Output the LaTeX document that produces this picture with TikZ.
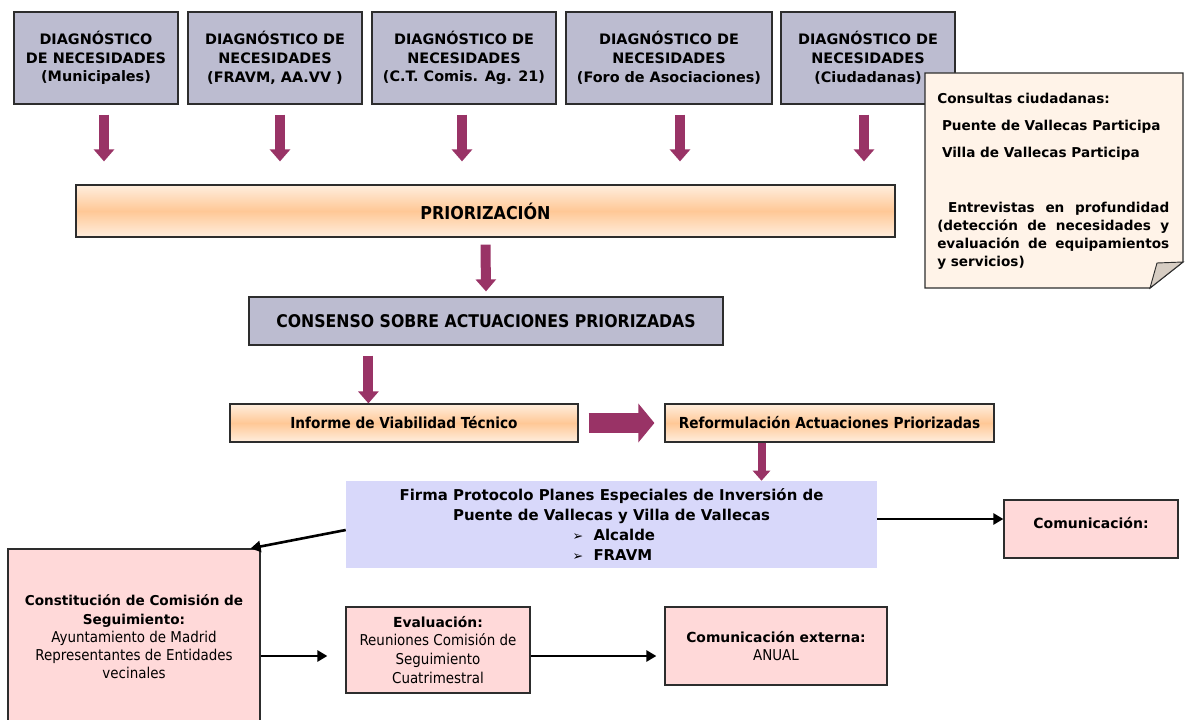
\documentclass[tikz,border=0pt]{standalone}
\usepackage{fontspec}
\setmainfont{DejaVu Sans}
\newfontfamily\cond{DejaVu Sans Condensed}
\usetikzlibrary{arrows.meta,calc}
\newdimen\px \px=0.75pt
\definecolor{diagc}{RGB}{188,188,208}
\definecolor{firmac}{RGB}{216,216,250}
\definecolor{pinkc}{RGB}{255,217,217}
\definecolor{maroonc}{RGB}{153,51,102}
\definecolor{orlight}{RGB}{255,238,222}
\definecolor{ormid}{RGB}{255,200,150}
\definecolor{notec}{RGB}{255,243,232}
\definecolor{foldc}{RGB}{215,205,195}
\definecolor{edgec}{RGB}{45,45,45}
\newcommand\bx[7][]{\node[#1, minimum width={(#5-#3)*0.75pt}, minimum height={(#6-#4)*0.75pt}] (#2) at ({(#3+#5)/2},{(#4+#6)/2}) {#7};}
\tikzset{
  x=0.75pt, y=-0.75pt,
  basebox/.style={draw=edgec, line width=0.9pt, inner sep=0pt, align=center},
  diagbox/.style={basebox, fill=diagc, font=\fontsize{10.8}{14.1}\selectfont\bfseries},
  orbox/.style={basebox, top color=orlight, bottom color=orlight, middle color=ormid},
  pinkbox/.style={basebox, fill=pinkc},
  marrow/.style={draw=maroonc, line width=7.5pt, -{Triangle[length=9pt,width=15pt]}},
  bigarrow/.style={draw=maroonc, line width=15pt, -{Triangle[length=12pt,width=28.5pt]}},
  karrow/.style={draw=black, line width=1.95pt, -{Triangle[length=7.5pt,width=8.25pt]}},
}
\begin{document}
\begin{tikzpicture}
\useasboundingbox (0,0) rectangle (1189,720);
% top diagnosis boxes
\bx[diagbox]{d1}{14}{12}{178}{104}{DIAGNÓSTICO\\DE NECESIDADES\\(Municipales)}
\bx[diagbox]{d2}{188}{12}{362}{104}{DIAGNÓSTICO DE\\NECESIDADES\\(FRAVM, AA.VV )}
\bx[diagbox]{d3}{372}{12}{556}{104}{DIAGNÓSTICO DE\\NECESIDADES\\(C.T. Comis. Ag. 21)}
\bx[diagbox]{d4}{566}{12}{772}{104}{DIAGNÓSTICO DE\\NECESIDADES\\(Foro de Asociaciones)}
\bx[diagbox]{d5}{781}{12}{955}{104}{DIAGNÓSTICO DE\\NECESIDADES\\(Ciudadanas)}
% priorizacion
\bx[orbox, font=\cond\fontsize{13.3}{15}\selectfont\bfseries]{prio}{76}{185}{895}{237}{PRIORIZACIÓN}
\draw[marrow] ($(d1.south)+(8,10)$) -- ($(d1.south |- prio.north)+(8,-23)$);
\draw[marrow] ($(d2.south)+(5,10)$) -- ($(d2.south |- prio.north)+(5,-23)$);
\draw[marrow] ($(d3.south)+(-2,10)$) -- ($(d3.south |- prio.north)+(-2,-23)$);
\draw[marrow] ($(d4.south)+(11,10)$) -- ($(d4.south |- prio.north)+(11,-23)$);
\draw[marrow] ($(d5.south)+(-4,10)$) -- ($(d5.south |- prio.north)+(-4,-23)$);
% consenso
\bx[diagbox, font=\cond\fontsize{13.1}{15}\selectfont\bfseries]{cons}{249}{297}{723}{345}{CONSENSO SOBRE ACTUACIONES PRIORIZADAS}
\draw[marrow] ($(prio.south)+(0,7)$) -- ($(cons.north)+(0,-5)$);
% informe / reformulacion
\bx[orbox, font=\cond\fontsize{11.4}{13}\selectfont\bfseries]{inf}{230}{404}{578}{442}{Informe de Viabilidad Técnico}
\bx[orbox, font=\cond\fontsize{11.4}{13}\selectfont\bfseries]{ref}{665}{404}{994}{442}{Reformulación Actuaciones Priorizadas}
\draw[marrow] ($(cons.south west)+(120,10)$) -- ($(inf.north west)+(139,0)$);
\draw[bigarrow] ($(inf.east)+(10,0)$) -- ($(ref.west)+(-10,0)$);
% firma
\bx[inner sep=0pt, fill=firmac, align=center, font=\fontsize{11.2}{15.2}\selectfont\bfseries]{firma}{346}{481}{877}{568}{%
Firma Protocolo Planes Especiales de Inversión de\\
Puente de Vallecas y Villa de Vallecas\\
\hspace*{8\px}\makebox[86\px][l]{{\mdseries\fontsize{9.5}{10}\selectfont ➢}\ \ Alcalde}\\
\hspace*{8\px}\makebox[86\px][l]{{\mdseries\fontsize{9.5}{10}\selectfont ➢}\ \ FRAVM}}
\draw[marrow, line width=6pt, -{Triangle[length=7.5pt,width=12.75pt]}] ($(ref.south)+(-68,0)$) -- ($(firma.north)+(150,0)$);
% comunicacion
\bx[pinkbox, font=\fontsize{10.5}{13}\selectfont\bfseries]{com}{1004}{500}{1178}{558}{\raisebox{13\px}{Comunicación:}}
\draw[karrow] ($(firma.east)+(0,-5.5)$) -- (com.west |- 0,519);
% constitucion
\bx[pinkbox, font=\fontsize{10.2}{13.7}\selectfont]{con}{8}{549}{260}{725}{%
\textbf{Constitución de Comisión de}\\ \textbf{Seguimiento:}\\
{\cond\fontsize{11.2}{13.7}\selectfont Ayuntamiento de Madrid}\\ {\cond\fontsize{11.2}{13.7}\selectfont Representantes de Entidades}\\ {\cond\fontsize{11.2}{13.7}\selectfont vecinales}}
\draw[karrow] ($(firma.west)+(0,5.5)$) -- ($(con.north east)+(-10,0)$);
% evaluacion
\bx[pinkbox, font=\fontsize{10.4}{14.2}\selectfont]{eval}{346}{607}{530}{693}{%
\textbf{Evaluación:}\\ {\cond\fontsize{11.2}{14.2}\selectfont Reuniones Comisión de}\\ {\cond\fontsize{11.2}{14.2}\selectfont Seguimiento}\\ {\cond\fontsize{11.2}{14.2}\selectfont Cuatrimestral}}
\bx[pinkbox, font=\fontsize{10.4}{13.5}\selectfont]{ext}{665}{607}{887}{685}{%
\textbf{Comunicación externa:}\\ {\cond\fontsize{11.2}{13.5}\selectfont ANUAL}}
\draw[karrow] (con.east |- 0,656) -- ($(eval.west |- 0,656)+(-18,0)$);
\draw[karrow] (eval.east |- 0,656) -- ($(ext.west |- 0,656)+(-8,0)$);
% note
\draw[edgec, line width=0.9pt, fill=notec] (925,73) -- (1183,73) -- (1183,262) -- (1150,288) -- (925,288) -- cycle;
\draw[edgec, line width=0.7pt, fill=foldc] (1150,288) -- (1157,263) -- (1183,262) -- cycle;
\node[anchor=north west, inner sep=0pt, align=left, font=\fontsize{10.2}{13.5}\selectfont\bfseries] (note) at (937,93) {%
Consultas ciudadanas:\\[9\px]
\ Puente de Vallecas Participa\\[9\px]
\ Villa de Vallecas Participa\\[37\px]
\makebox[232\px][s]{\ Entrevistas en profundidad}\\
\makebox[232\px][s]{(detección de necesidades y}\\
\makebox[232\px][s]{evaluación de equipamientos}\\
y servicios)};
\end{tikzpicture}
\end{document}
